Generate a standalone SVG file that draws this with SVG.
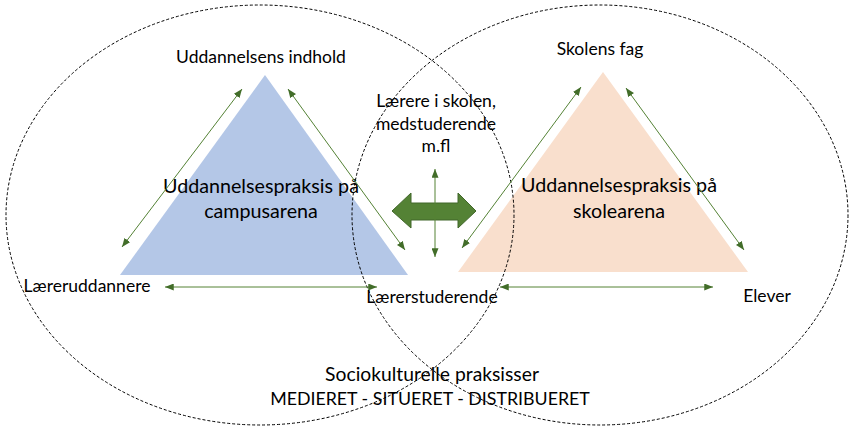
<svg xmlns="http://www.w3.org/2000/svg" width="854" height="432" viewBox="0 0 854 432">
<style>
.t{font-family:Lato,"Liberation Sans",Arial,sans-serif;fill:#000;text-anchor:middle}
.s{font-size:17.5px}
.b{font-size:19.7px}
.el{fill:none;stroke:#000;stroke-width:1;stroke-dasharray:3 2}
.c{fill:none;stroke:#548235;stroke-width:1;marker-start:url(#ah);marker-end:url(#ah)}
</style>
<defs>
<marker id="ah" viewBox="0 0 10 8" refX="10" refY="4" markerWidth="9" markerHeight="7" orient="auto-start-reverse" markerUnits="userSpaceOnUse">
<path d="M0,0 L10,4 L0,8 z" fill="#426d29"/>
</marker>
</defs>
<rect width="854" height="432" fill="#fff"/>
<g id="campus">
<polygon points="265,75 120,275 408,275" fill="#b4c7e7"/>
<text class="t b" x="261" y="193">Uddannelsespraksis på</text>
<text class="t b" x="261" y="218">campusarena</text>
</g>
<g id="skole">
<polygon points="603,72 458,272 748,272" fill="#f9dfcd"/>
<text class="t b" x="619" y="192">Uddannelsespraksis på</text>
<text class="t b" x="619" y="218">skolearena</text>
</g>
<g id="ellipses">
<ellipse class="el" cx="260" cy="215" rx="254" ry="210"/>
<ellipse class="el" cx="600" cy="215" rx="248" ry="210"/>
</g>
<g id="connectors">
<line class="c" x1="122" y1="247" x2="242" y2="89"/>
<line class="c" x1="288" y1="89" x2="405" y2="250"/>
<line class="c" x1="165" y1="287" x2="377" y2="287"/>
<line class="c" x1="462" y1="248" x2="581" y2="87"/>
<line class="c" x1="626" y1="88" x2="744" y2="250"/>
<line class="c" x1="500" y1="287" x2="713" y2="287"/>
<polygon id="blockarrow" points="392,211 411,193 411,203 458,203 458,193 476,211 458,228 458,220 411,220 411,228" fill="#548235" stroke="#41672a" stroke-width="1"/>
<line class="c" x1="435" y1="169" x2="435" y2="257"/>
</g>
<g id="uddannelsens-indhold"><text class="t s" x="261" y="63">Uddannelsens indhold</text></g>
<g id="skolens-fag"><text class="t s" x="600" y="55">Skolens fag</text></g>
<g id="laerere-i-skolen">
<text class="t s" x="436" y="107">Lærere i skolen,</text>
<text class="t s" x="436" y="130">medstuderende</text>
<text class="t s" x="436" y="152">m.fl</text>
</g>
<g id="laereruddannere"><text class="t s" x="87" y="292">Læreruddannere</text></g>
<g id="laererstuderende"><text class="t s" x="432" y="303">Lærerstuderende</text></g>
<g id="elever"><text class="t s" x="767" y="302">Elever</text></g>
<g id="sociokulturelle">
<text class="t" style="font-size:19.3px" x="432" y="381">Sociokulturelle praksisser</text>
<text class="t" style="font-size:17.8px" x="430" y="405">MEDIERET - SITUERET - DISTRIBUERET</text>
</g>
</svg>
